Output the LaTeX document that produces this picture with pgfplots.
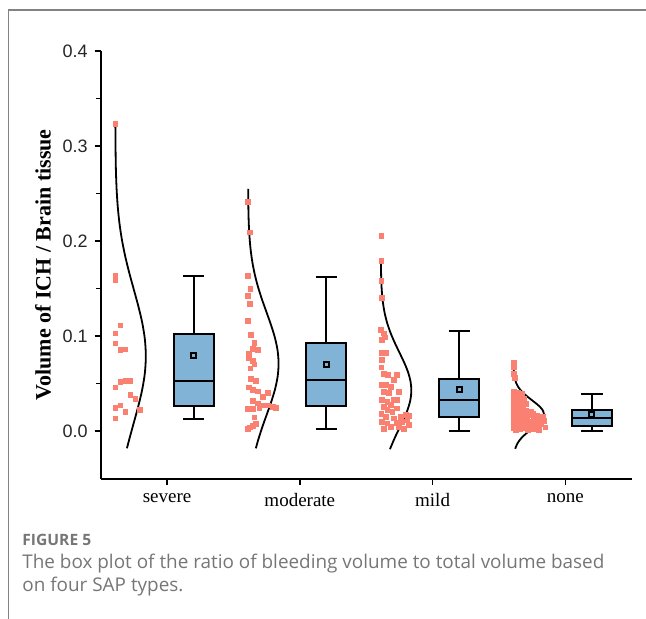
\documentclass[border=0pt]{standalone}
\usepackage{fontspec}
\setmainfont{Liberation Serif}
\newfontfamily\arialfont{Liberation Sans}
\newfontfamily\capfont{Open Sans}
\usepackage{pgfplots}
\pgfplotsset{compat=1.18}
\usepgfplotslibrary{statistics}
\definecolor{salmon}{RGB}{250,128,114}
\definecolor{boxblue}{RGB}{128,179,214}
\definecolor{avgc}{RGB}{60,80,105}
\definecolor{capgray}{RGB}{118,118,118}
\definecolor{framegray}{RGB}{130,130,130}
\begin{document}
\begin{tikzpicture}
\useasboundingbox (0,0) rectangle (323pt,-309.5pt);
\draw[framegray, line width=0.75pt] (4.25pt,-309.5pt) -- (4.25pt,-5pt) -- (323pt,-5pt);
\begin{axis}[
  at={(50.35pt,-239.35pt)}, anchor=south west,
  width=265.5pt, height=213.85pt, scale only axis,
  xmin=0.5, xmax=4.5, ymin=-0.05, ymax=0.4,
  axis lines=left, axis line style={-, line width=0.8pt},
  xtick={1,2,3,4}, xticklabels={severe,moderate,mild,none},
  ytick={0,0.1,0.2,0.3,0.4}, minor ytick={0.05,0.15,0.25,0.35},
  tick align=outside, major tick length=3pt, minor tick length=2.2pt,
  tick style={line width=0.8pt, black},
  xticklabel style={font=\fontsize{9.5}{11}\selectfont, yshift=-1pt},
  yticklabel style={/pgf/number format/.cd, fixed, fixed zerofill, precision=1, assume math mode=true, /tikz/.cd, font=\arialfont\fontsize{9}{10}\selectfont, text=black!85},
  ylabel={Volume of ICH / Brain tissue},
  ylabel style={font=\bfseries\fontsize{11}{13}\selectfont, at={(axis description cs:-0.1087,0.5)}, anchor=center},
  clip=false,
  boxplot/draw direction=y,
  boxplot/box extend=0.3,
  boxplot/whisker extend=0.16,
  boxplot/every median/.style={line width=1pt},
  boxplot/every average/.style={/tikz/mark=square, /tikz/mark size=1.2pt, /tikz/mark options={draw=avgc, fill=boxblue, line width=0.4pt}},
]
% scatter points
\addplot[only marks, mark=square*, mark size=1.2pt, salmon, mark options={draw=none, fill=salmon}] coordinates {
(0.610,0.3232) (0.610,0.1635) (0.610,0.1590) (0.648,0.1112) (0.610,0.1028) (0.610,0.0923)
(0.648,0.0853) (0.686,0.0860) (0.648,0.0519) (0.686,0.0530) (0.723,0.0530) (0.610,0.0460)
(0.723,0.0382) (0.761,0.0340) (0.648,0.0271) (0.610,0.0249) (0.686,0.0207) (0.798,0.0228)
(0.610,0.0134)
};
\addplot[only marks, mark=square*, mark size=1.2pt, salmon, mark options={draw=none, fill=salmon}] coordinates {
(1.608,0.2414) (1.621,0.2092) (1.608,0.1632) (1.628,0.1495) (1.608,0.1421) (1.621,0.1337)
(1.608,0.1161) (1.633,0.1014) (1.658,0.0933) (1.646,0.0863) (1.683,0.0853) (1.615,0.0814)
(1.615,0.0772) (1.646,0.0737) (1.658,0.0702) (1.628,0.0660) (1.633,0.0551) (1.671,0.0529)
(1.615,0.0460) (1.646,0.0432) (1.683,0.0418) (1.721,0.0361) (1.759,0.0403) (1.646,0.0319)
(1.683,0.0292) (1.721,0.0271) (1.608,0.0232) (1.646,0.0232) (1.696,0.0249) (1.759,0.0271)
(1.796,0.0256) (1.817,0.0249) (1.658,0.0144) (1.621,0.0039) (1.646,0.0053) (1.671,0.0074)
(1.608,0.0028)
};
\addplot[only marks, mark=square*, mark size=1.2pt, salmon, mark options={draw=none, fill=salmon}] coordinates {
(2.614,0.2056) (2.614,0.1793) (2.614,0.1579) (2.621,0.1403) (2.611,0.1063) (2.633,0.1028)
(2.621,0.0958) (2.639,0.0986) (2.614,0.0824) (2.646,0.0824) (2.621,0.0747) (2.614,0.0671)
(2.633,0.0600) (2.664,0.0589) (2.729,0.0589) (2.709,0.0537) (2.614,0.0484) (2.646,0.0484)
(2.689,0.0467) (2.633,0.0414) (2.671,0.0403) (2.747,0.0414) (2.621,0.0326) (2.659,0.0309)
(2.709,0.0334) (2.734,0.0326) (2.633,0.0256) (2.684,0.0274) (2.659,0.0221) (2.697,0.0203)
(2.734,0.0239) (2.614,0.0186) (2.646,0.0151) (2.709,0.0134) (2.759,0.0151) (2.797,0.0168)
(2.822,0.0158) (2.621,0.0098) (2.659,0.0081) (2.734,0.0087) (2.772,0.0098) (2.810,0.0116)
(2.822,0.0063) (2.633,0.0028) (2.684,0.0045) (2.747,0.0039) (2.784,0.0028)
};
\addplot[only marks, mark=square*, mark size=1.2pt, salmon, mark options={draw=none, fill=salmon}] coordinates {
(3.610,0.072) (3.612,0.067) (3.615,0.060) (3.622,0.056) (3.610,0.041) (3.640,0.040)
(3.670,0.039) (3.625,0.038) (3.655,0.036) (3.612,0.035) (3.690,0.034) (3.635,0.032)
(3.610,0.031) (3.665,0.030) (3.700,0.029) (3.620,0.028) (3.645,0.027) (3.680,0.026)
(3.610,0.025) (3.630,0.023) (3.660,0.022) (3.700,0.021) (3.740,0.020) (3.615,0.020)
(3.645,0.019) (3.760,0.018) (3.680,0.018) (3.610,0.017) (3.720,0.017) (3.790,0.016)
(3.640,0.016) (3.830,0.015) (3.670,0.014) (3.615,0.014) (3.710,0.013) (3.760,0.013)
(3.800,0.012) (3.640,0.012) (3.840,0.011) (3.690,0.011) (3.610,0.010) (3.735,0.010)
(3.780,0.009) (3.655,0.009) (3.820,0.008) (3.625,0.008) (3.700,0.007) (3.750,0.007)
(3.610,0.006) (3.670,0.006) (3.800,0.005) (3.730,0.005) (3.640,0.004) (3.850,0.004)
(3.690,0.003) (3.615,0.003) (3.760,0.002) (3.660,0.002) (3.720,0.001) (3.630,0.001)
(3.800,0.001)
};
% distribution curves
\addplot[black, line width=0.9pt, smooth] coordinates {
(0.6105,0.323) (0.6126,0.289) (0.6152,0.2715) (0.6201,0.254) (0.6283,0.2365) (0.6411,0.219)
(0.6597,0.2015) (0.6847,0.184) (0.7153,0.1665) (0.7495,0.149) (0.7836,0.1315) (0.8130,0.114)
(0.8329,0.0965) (0.84,0.079) (0.8329,0.0615) (0.8130,0.044) (0.7836,0.0265) (0.7495,0.009)
(0.7153,-0.0085) (0.6976,-0.018)
};
\addplot[black, line width=0.9pt, smooth] coordinates {
(1.6107,0.255) (1.6126,0.233) (1.6152,0.2195) (1.6201,0.206) (1.6283,0.1925) (1.6411,0.179)
(1.6597,0.1655) (1.6847,0.152) (1.7153,0.1385) (1.7495,0.125) (1.7836,0.1115) (1.8130,0.098)
(1.8329,0.0845) (1.84,0.071) (1.8329,0.0575) (1.8130,0.044) (1.7836,0.0305) (1.7495,0.017)
(1.7153,0.0035) (1.6847,-0.010) (1.669,-0.018)
};
\addplot[black, line width=0.9pt, smooth] coordinates {
(2.6109,0.1766) (2.6126,0.163) (2.6152,0.153) (2.6201,0.143) (2.6283,0.133) (2.6411,0.123)
(2.6597,0.113) (2.6847,0.103) (2.7153,0.093) (2.7495,0.083) (2.7836,0.073) (2.8130,0.063)
(2.8329,0.053) (2.84,0.043) (2.8329,0.033) (2.8130,0.023) (2.7836,0.013) (2.7495,0.003)
(2.7153,-0.007) (2.6847,-0.017) (2.6792,-0.019)
};
\addplot[black, line width=0.9pt, smooth] coordinates {
(3.6112,0.066) (3.6126,0.0625) (3.6152,0.05875) (3.6201,0.055) (3.6283,0.05125) (3.6411,0.0475)
(3.6597,0.04375) (3.6847,0.04) (3.7153,0.03625) (3.7495,0.0325) (3.7836,0.02875) (3.8130,0.025)
(3.8329,0.02125) (3.84,0.0175) (3.8329,0.01375) (3.8130,0.01) (3.7836,0.00625) (3.7495,0.0025)
(3.7153,-0.00125) (3.6847,-0.005) (3.6597,-0.00875) (3.6411,-0.0125) (3.6283,-0.01625) (3.6229,-0.0185)
};
% box plots
\addplot[draw=black, fill=boxblue, line width=1pt, boxplot prepared={draw position=1.2,
  lower whisker=0.013, lower quartile=0.0266, median=0.0526, upper quartile=0.1021, upper whisker=0.1635, average=0.0793}] coordinates {};
\addplot[draw=black, fill=boxblue, line width=1pt, boxplot prepared={draw position=2.2,
  lower whisker=0.002, lower quartile=0.0266, median=0.054, upper quartile=0.093, upper whisker=0.1624, average=0.0705}] coordinates {};
\addplot[draw=black, fill=boxblue, line width=1pt, boxplot prepared={draw position=3.2,
  lower whisker=0.0003, lower quartile=0.015, median=0.0323, upper quartile=0.0544, upper whisker=0.1056, average=0.0442}] coordinates {};
\addplot[draw=black, fill=boxblue, line width=1pt, boxplot prepared={draw position=4.2,
  lower whisker=0.0003, lower quartile=0.0056, median=0.0134, upper quartile=0.0221, upper whisker=0.039, average=0.0176}] coordinates {};
\end{axis}
\node[anchor=base west, inner sep=0, text=capgray, font=\capfont\bfseries\fontsize{7.8}{9}\selectfont] at (11pt,-272.5pt) {FIGURE 5};
\node[anchor=base west, inner sep=0, text=capgray, font=\capfont\fontsize{9.45}{11}\selectfont] at (11pt,-284pt) {The box plot of the ratio of bleeding volume to total volume based};
\node[anchor=base west, inner sep=0, text=capgray, font=\capfont\fontsize{9.45}{11}\selectfont] at (11pt,-295.5pt) {on four SAP types.};
\end{tikzpicture}
\end{document}
